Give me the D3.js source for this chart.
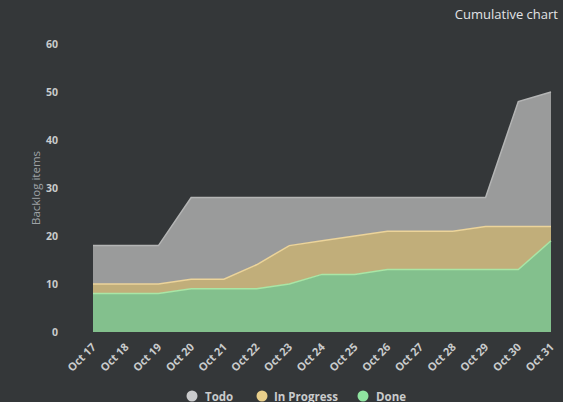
<!DOCTYPE html>
<html>
<head>
<meta charset="utf-8">
<script src="https://cdnjs.cloudflare.com/ajax/libs/d3/7.8.5/d3.min.js"></script>
<style>
  html, body { margin: 0; padding: 0; background: #343739; }
  #chart { width: 563px; height: 402px; }
  text { font-family: "Open Sans", "DejaVu Sans", sans-serif; }
</style>
</head>
<body>
<div id="chart"></div>
<script>
// --- DATA ---
const days = ["Oct 17", "Oct 18", "Oct 19", "Oct 20", "Oct 21", "Oct 22", "Oct 23", "Oct 24",
              "Oct 25", "Oct 26", "Oct 27", "Oct 28", "Oct 29", "Oct 30", "Oct 31"];
const done       = [8, 8, 8, 9, 9, 9, 10, 12, 12, 13, 13, 13, 13, 13, 19];
const inProgress = [2, 2, 2, 2, 2, 5, 8, 7, 8, 8, 8, 8, 9, 9, 3];
const todo       = [8, 8, 8, 17, 17, 14, 10, 9, 8, 7, 7, 7, 6, 26, 28];
const yTicks = [0, 10, 20, 30, 40, 50, 60];
const seriesNames = ["Done", "In Progress", "Todo"];

(function () {
    'use strict';

    const W = 563, H = 402;
    const margin = { top: 44, right: 12, bottom: 70, left: 93 };
    const width = W - margin.left - margin.right;
    const height = H - margin.top - margin.bottom;

    const fills  = { "Done": "#83c08d", "In Progress": "#c1ae7a", "Todo": "#9a9b9b" };
    const lines  = { "Done": "#a9e6a6", "In Progress": "#ecd49a", "Todo": "#b4b5b5" };
    const dots   = { "Todo": "#c9cacc", "In Progress": "#e9cf8b", "Done": "#8fe3a0" };

    const table = days.map((d, i) => ({ day: d, "Done": done[i], "In Progress": inProgress[i], "Todo": todo[i] }));
    const stacked = d3.stack().keys(seriesNames)(table);

    const svg = d3.select("#chart").append("svg")
        .attr("width", W).attr("height", H);

    svg.append("rect").attr("width", W).attr("height", H).attr("fill", "#343739");

    const g = svg.append("g").attr("transform", `translate(${margin.left},${margin.top})`);

    // --- SCALES ---
    const x = d3.scalePoint().domain(days).range([0, width]);
    const y = d3.scaleLinear().domain([0, 60]).range([height, 0]);

    const area = d3.area()
        .x(d => x(d.data.day))
        .y0(d => y(d[0]))
        .y1(d => y(d[1]));
    const topLine = d3.line()
        .x(d => x(d.data.day))
        .y(d => y(d[1]));

    // draw from top series down so lower layers sit above
    stacked.slice().reverse().forEach(s => {
        g.append("path").attr("d", area(s)).attr("fill", fills[s.key]);
    });
    stacked.slice().reverse().forEach(s => {
        g.append("path").attr("d", topLine(s))
            .attr("fill", "none").attr("stroke", lines[s.key]).attr("stroke-width", 1.5);
    });

    // --- Y AXIS ---
    g.selectAll(".ytick").data(yTicks).enter().append("text")
        .attr("x", -35).attr("y", d => y(d)).attr("dy", "0.35em")
        .attr("text-anchor", "end")
        .attr("fill", "#c9cbcc").attr("font-size", 10.5).attr("font-weight", "bold")
        .text(d => d);

    svg.append("text")
        .attr("transform", `translate(40,${margin.top + height / 2}) rotate(-90)`)
        .attr("text-anchor", "middle")
        .attr("fill", "#9ea2a6").attr("font-size", 11.5)
        .text("Backlog items");

    // --- X AXIS ---
    g.selectAll(".xtick").data(days).enter().append("text")
        .attr("transform", d => `translate(${x(d) + 1},${height + 13}) rotate(-45)`)
        .attr("text-anchor", "end")
        .attr("dy", "0.35em")
        .attr("fill", "#c9cbcc").attr("font-size", 11).attr("font-weight", "bold")
        .text(d => d);

    // --- TITLE ---
    svg.append("text")
        .attr("x", 558).attr("y", 19)
        .attr("text-anchor", "end")
        .attr("fill", "#e2e3e6").attr("font-size", 13)
        .text("Cumulative chart");

    // --- LEGEND ---
    const legendItems = [
        { name: "Todo", cx: 192, tx: 205 },
        { name: "In Progress", cx: 262, tx: 274 },
        { name: "Done", cx: 363, tx: 376 }
    ];
    const leg = svg.append("g");
    leg.selectAll("circle").data(legendItems).enter().append("circle")
        .attr("cx", d => d.cx).attr("cy", 396).attr("r", 5.5)
        .attr("fill", d => dots[d.name]);
    leg.selectAll("text").data(legendItems).enter().append("text")
        .attr("x", d => d.tx).attr("y", 400.5)
        .attr("fill", "#c9cbcc").attr("font-size", 11.5).attr("font-weight", "bold")
        .text(d => d.name);
})();
</script>
</body>
</html>
